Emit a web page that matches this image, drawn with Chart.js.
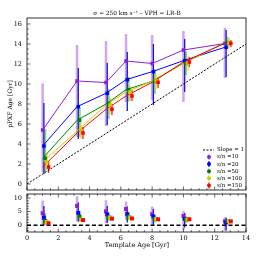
<!DOCTYPE html>
<html>
<head>
<meta charset="utf-8">
<script src="https://cdn.jsdelivr.net/npm/chart.js@4.4.1/dist/chart.umd.min.js"></script>
<style>
  html, body { margin: 0; padding: 0; background: #fff; }
  canvas { position: absolute; left: 0; top: 0; }
</style>
</head>
<body>
<canvas id="topChart" width="274" height="274"></canvas>
<canvas id="botChart" width="274" height="274"></canvas>
<script>
// ── data ─────────────────────────────────────────────────
const ages = [1.0, 3.2, 5.05, 6.33, 8.0, 10.0, 12.65];          // template ages [Gyr]
const snLabels = ['s/n =10', 's/n =20', 's/n =50', 's/n =100', 's/n =150'];
const xShift = [0, 0.08, 0.16, 0.26, 0.38];                     // marker offset per s/n

const fit10  = [5.4, 10.3, 10.15, 12.3, 12.05, 13.4, 14.05];
const fit20  = [3.8, 7.73, 9.07, 10.43, 11.23, 12.33, 13.67];
const fit50  = [2.57, 6.37, 8.0, 9.43, 10.27, 12.07, 14.13];
const fit100 = [2.2, 5.3, 7.9, 9.2, 10.3, 12.1, 14.1];
const fit150 = [1.7, 5.1, 7.47, 8.8, 10.17, 12.2, 14.07];

const res10  = [4.4, 7.1, 5.1, 5.97, 4.05, 3.4, 1.4];
const res20  = [2.8, 4.53, 4.02, 4.1, 3.23, 2.33, 1.02];
const res50  = [1.57, 3.17, 2.95, 3.1, 2.27, 2.07, 1.48];
const res100 = [1.2, 2.1, 2.85, 2.87, 2.3, 2.1, 1.45];
const res150 = [0.7, 1.9, 2.42, 2.47, 2.17, 2.2, 1.42];

const errLo10  = [4.2, 5.6, 4.35, 4.1, 3.65, 5.2, 3.45];
const errHi10  = [4.67, 3.6, 4.15, 2.7, 2.85, 1.9, 1.55];
const errLo20  = [2.8, 3.23, 3.17, 3.13, 3.33, 3.13, 2.97];
const errHi20  = [4.3, 3.87, 3.03, 2.77, 2.77, 2.17, 1.73];
const errLo50  = [1.37, 1.67, 1.5, 1.2, 1.27, 1.2, 0.6];
const errHi50  = [2.93, 1.33, 1.5, 1.3, 1.2, 1.2, 0.6];
const errLo100 = [0.8, 0.8, 0.9, 0.9, 0.8, 0.8, 0.5];
const errHi100 = [0.8, 0.8, 0.7, 0.6, 0.7, 0.7, 0.5];
const errLo150 = [0.6, 0.6, 0.57, 0.5, 0.57, 0.5, 0.37];
const errHi150 = [0.6, 0.6, 0.53, 0.6, 0.53, 0.5, 0.33];

const slopeX = [0, 14], slopeY = [0, 14];
const zeroX = [0, 14], zeroY = [0, 0];

const xTicks = [0, 2, 4, 6, 8, 10, 12, 14];
const yTicksTop = [0, 2, 4, 6, 8, 10, 12, 14, 16];
const yTicksBot = [0, 5, 10];

// ── styling ──────────────────────────────────────────────
const colors   = ['#8a1fd8', '#0000ff', '#008000', '#cccc00', '#ff0000'];
const barCols  = ['rgba(160,80,225,0.5)', '#1414e0', 'rgba(0,150,0,0.45)', 'rgba(210,210,0,0.5)', '#ff2020'];
const barWidth = [2.5, 1.3, 2.3, 2.5, 1.3];

const fits = [fit10, fit20, fit50, fit100, fit150];
const ress = [res10, res20, res50, res100, res150];
const errLo = [errLo10, errLo20, errLo50, errLo100, errLo150];
const errHi = [errHi10, errHi20, errHi50, errHi100, errHi150];

Chart.defaults.font.family = '"DejaVu Serif", serif';
Chart.defaults.font.size = 6.5;
Chart.defaults.color = '#000';

const pts = (xs, ys) => xs.map((x, i) => ({ x, y: ys[i] }));

// error bars drawn through the scales
const errBars = {
  id: 'errBars',
  beforeDatasetsDraw(chart) {
    const { ctx, scales: { x, y } } = chart;
    ctx.save();
    chart.data.datasets.forEach(ds => {
      if (!ds.errLo) return;
      ctx.strokeStyle = ds.barColor; ctx.lineWidth = ds.barWidth;
      ds.data.forEach((p, i) => {
        const px = x.getPixelForValue(p.x);
        ctx.beginPath();
        ctx.moveTo(px, y.getPixelForValue(p.y - ds.errLo[i]));
        ctx.lineTo(px, y.getPixelForValue(p.y + ds.errHi[i]));
        ctx.stroke();
      });
    });
    ctx.restore();
  }
};

// frame + inward ticks + extra text
const frame = {
  id: 'frame',
  afterDraw(chart, args, o) {
    const { ctx, chartArea: a, scales: { x, y } } = chart;
    ctx.save();
    ctx.strokeStyle = '#000'; ctx.lineWidth = 0.8;
    ctx.strokeRect(a.left, a.top, a.right - a.left, a.bottom - a.top);
    ctx.lineWidth = 0.6;
    const tick = (x1, y1, x2, y2) => { ctx.beginPath(); ctx.moveTo(x1, y1); ctx.lineTo(x2, y2); ctx.stroke(); };
    for (let v = 0; v <= 14.001; v += 0.5) {
      const px = x.getPixelForValue(v), len = v % 2 === 0 ? 3.5 : 1.8;
      tick(px, a.bottom, px, a.bottom - len);
      if (o.topTicks) tick(px, a.top, px, a.top + len);
    }
    for (let v = o.yMinor[0]; v <= o.yMinor[1] + 0.001; v += o.yMinor[2]) {
      const py = y.getPixelForValue(v);
      if (py < a.top || py > a.bottom) continue;
      const len = o.yMajor.includes(v) ? 3.5 : 1.8;
      tick(a.left, py, a.left + len, py);
    }
    ctx.fillStyle = '#000';
    ctx.textAlign = 'center'; ctx.textBaseline = 'middle';
    (o.texts || []).forEach(t => {
      ctx.save();
      ctx.translate(t.x, t.y);
      if (t.rot) ctx.rotate(t.rot);
      ctx.font = t.font;
      ctx.fillText(t.s, 0, 0);
      ctx.restore();
    });
    if (o.legend) {
      const lx = 209, tx = 217;
      ctx.textAlign = 'left';
      ctx.font = '5.5px "DejaVu Serif"';
      ctx.strokeStyle = '#000'; ctx.lineWidth = 1; ctx.setLineDash([2, 1.5]);
      tick(203, 150, 214, 150);
      ctx.setLineDash([]);
      ctx.fillText('Slope = 1', tx, 150);
      snLabels.forEach((s, k) => {
        const ly = 157 + k * 7.1;
        ctx.strokeStyle = barCols[k]; ctx.lineWidth = 1.2;
        tick(lx, ly - 3, lx, ly + 3);
        ctx.fillStyle = colors[k];
        ctx.beginPath(); ctx.arc(lx, ly, 2, 0, Math.PI * 2); ctx.fill();
        ctx.fillStyle = '#000';
        ctx.fillText(s, tx, ly);
      });
    }
    ctx.restore();
  }
};

function seriesSets(vals, withLine) {
  const sets = [];
  vals.forEach((v, k) => {
    if (withLine) {
      sets.push({ data: pts(ages, v), showLine: true, borderColor: colors[k], borderWidth: 1,
                  pointRadius: 0, order: 20 - k });
    }
    sets.push({ data: pts(ages.map(a => a + xShift[k]), v), showLine: false,
                pointStyle: 'rect', pointRadius: withLine ? 2.5 : 2.8, backgroundColor: colors[k],
                borderWidth: 0, order: 10 - k,
                errLo: errLo[k], errHi: errHi[k], barColor: barCols[k], barWidth: barWidth[k] });
  });
  return sets;
}

function baseOpts(pad, yMin, yMax, yTicks, xHeight, showX) {
  return {
    responsive: false, animation: false, events: [],
    layout: { padding: pad },
    plugins: { legend: { display: false }, tooltip: { enabled: false } },
    scales: {
      x: { type: 'linear', min: 0, max: 14,
           afterBuildTicks(s) { s.ticks = xTicks.map(v => ({ value: v })); },
           ticks: { display: showX, padding: 2, maxRotation: 0 },
           grid: { display: false, drawTicks: false }, border: { display: false },
           afterFit(s) { s.height = xHeight; } },
      y: { type: 'linear', min: yMin, max: yMax,
           afterBuildTicks(s) { s.ticks = yTicks.map(v => ({ value: v })); },
           ticks: { padding: 5 },
           grid: { display: false, drawTicks: false }, border: { display: false },
           afterFit(s) { s.width = 27; } }
    }
  };
}

// ── top panel ────────────────────────────────────────────
const topOpts = baseOpts({ left: 0, right: 28, top: 18, bottom: 0 }, -0.6, 16.6, yTicksTop, 84, false);
topOpts.plugins.frame = {
  topTicks: false, yMinor: [0, 16, 0.5], yMajor: yTicksTop, legend: true,
  texts: [
    { s: 'σ = 250 km s⁻¹ – VPH = LR-B', x: 137, y: 13, font: '5.8px "DejaVu Serif"' },
    { s: 'pPXF Age [Gyr]', x: 10, y: 104, rot: -Math.PI / 2, font: '6px "DejaVu Serif"' }
  ]
};
new Chart(document.getElementById('topChart'), {
  type: 'scatter',
  data: { datasets: [
    { data: pts(slopeX, slopeY), showLine: true, borderColor: '#000', borderWidth: 1,
      borderDash: [2, 1.5], pointRadius: 0, order: 30 },
    ...seriesSets(fits, true)
  ] },
  options: topOpts,
  plugins: [errBars, frame]
});

// ── residual panel ───────────────────────────────────────
const botOpts = baseOpts({ left: 0, right: 28, top: 194, bottom: 0 }, -2.5, 11.5, yTicksBot, 42, true);
botOpts.plugins.frame = {
  topTicks: true, yMinor: [-2, 11, 1], yMajor: yTicksBot,
  texts: [{ s: 'Template Age [Gyr]', x: 137, y: 245, font: '6.5px "DejaVu Serif"' }]
};
new Chart(document.getElementById('botChart'), {
  type: 'scatter',
  data: { datasets: [
    { data: pts(zeroX, zeroY), showLine: true, borderColor: '#000', borderWidth: 1.4,
      borderDash: [4, 2.5], pointRadius: 0, order: 30 },
    ...seriesSets(ress, false)
  ] },
  options: botOpts,
  plugins: [errBars, frame]
});
</script>
</body>
</html>
